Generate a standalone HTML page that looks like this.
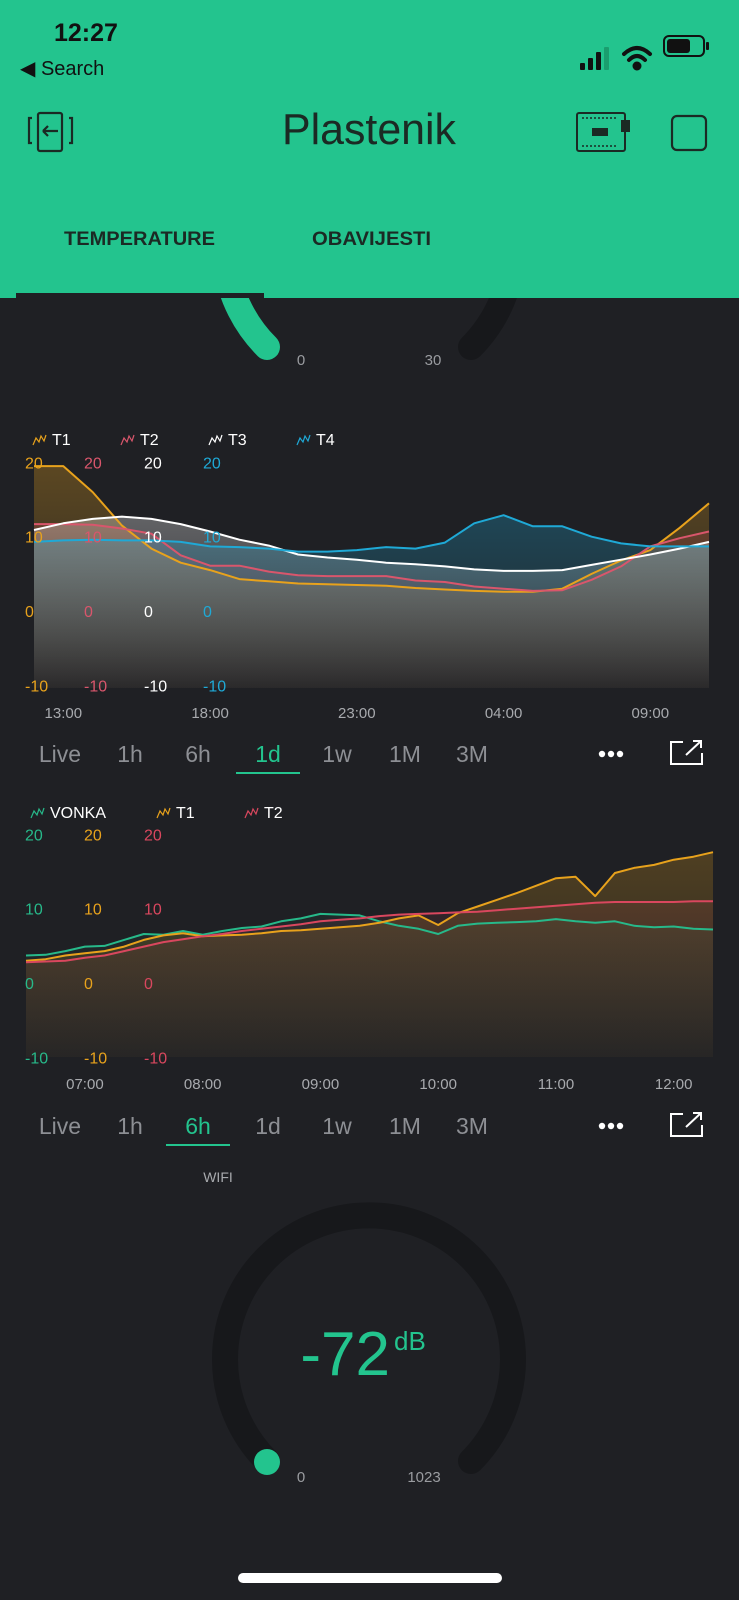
<!DOCTYPE html>
<html><head><meta charset="utf-8"><style>
html,body{margin:0;padding:0;background:#1f2024;}
body{width:739px;height:1600px;overflow:hidden;font-family:"Liberation Sans",sans-serif;}
svg{display:block}
text{font-family:"Liberation Sans",sans-serif;}
</style></head><body>
<svg id="root" width="739" height="1600" viewBox="0 0 739 1600" xmlns="http://www.w3.org/2000/svg">
<defs>
<linearGradient id="gOr" x1="0" y1="0" x2="0" y2="1"><stop offset="0" stop-color="#e8a21c" stop-opacity="0.3"/><stop offset="1" stop-color="#e8a21c" stop-opacity="0.03"/></linearGradient>
<linearGradient id="gOr2" x1="0" y1="0" x2="0" y2="1"><stop offset="0" stop-color="#e8a21c" stop-opacity="0.24"/><stop offset="1" stop-color="#e8a21c" stop-opacity="0.03"/></linearGradient>
<linearGradient id="gPk" x1="0" y1="0" x2="0" y2="1"><stop offset="0" stop-color="#d9475e" stop-opacity="0.18"/><stop offset="1" stop-color="#d9475e" stop-opacity="0.02"/></linearGradient>
<linearGradient id="gPk2" x1="0" y1="0" x2="0" y2="1"><stop offset="0" stop-color="#d9475e" stop-opacity="0.1"/><stop offset="1" stop-color="#d9475e" stop-opacity="0.01"/></linearGradient>
<linearGradient id="gWh" x1="0" y1="0" x2="0" y2="1"><stop offset="0" stop-color="#ffffff" stop-opacity="0.3"/><stop offset="1" stop-color="#ffffff" stop-opacity="0.01"/></linearGradient>
<linearGradient id="gBl" x1="0" y1="0" x2="0" y2="1"><stop offset="0" stop-color="#1fa9d6" stop-opacity="0.28"/><stop offset="1" stop-color="#1fa9d6" stop-opacity="0.02"/></linearGradient>
<linearGradient id="gGr" x1="0" y1="0" x2="0" y2="1"><stop offset="0" stop-color="#27b98a" stop-opacity="0.06"/><stop offset="1" stop-color="#27b98a" stop-opacity="0.01"/></linearGradient>
</defs>

<g>
<path d="M267 347 A144 144 0 1 1 471 347" fill="none" stroke="#17181b" stroke-width="26" stroke-linecap="round"/>
<path d="M267 347 A144 144 0 0 1 244 173" fill="none" stroke="#23c48e" stroke-width="26" stroke-linecap="round"/>
<text x="301" y="365" fill="#9a9ca0" font-size="15" text-anchor="middle">0</text>
<text x="433" y="365" fill="#9a9ca0" font-size="15" text-anchor="middle">30</text>
</g>

<g>
<rect x="0" y="0" width="739" height="298" fill="#23c48e"/>
<text x="54" y="41" font-size="25" font-weight="bold" fill="#111">12:27</text>
<text x="20" y="75" font-size="20" fill="#111">◀ Search</text>
<g fill="#111">
<rect x="580" y="63" width="5" height="7" rx="1"/><rect x="588" y="58" width="5" height="12" rx="1"/><rect x="596" y="52" width="5" height="18" rx="1"/><rect x="604" y="47" width="5" height="23" rx="1" fill="#1a9e6e"/>
</g>
<g fill="none" stroke="#111" stroke-width="4" stroke-linecap="round">
<path d="M624 54 Q637 42 650 54"/><path d="M629 60 Q637 52 645 60"/><circle cx="637" cy="66" r="2.5" fill="#111"/>
</g>
<g>
<rect x="664" y="36" width="40" height="20" rx="5" fill="none" stroke="#111" stroke-width="2"/><rect x="667" y="39" width="23" height="14" rx="3" fill="#111"/><rect x="706" y="42" width="3" height="8" rx="1" fill="#111"/>
</g>
<g fill="none" stroke="#1b2a24" stroke-width="2.2">
<path d="M32 118 L29 118 L29 143 L32 143"/><path d="M69 118 L72 118 L72 143 L69 143"/>
<rect x="38" y="113" width="24" height="38" rx="2"/><path d="M43 131 L58 131 M43 131 L48 126 M43 131 L48 136"/>
</g>
<text x="282" y="144" font-size="44" fill="#1b2a24" textLength="174" lengthAdjust="spacingAndGlyphs">Plastenik</text>
<g>
<rect x="577" y="113" width="48" height="38" rx="2" fill="none" stroke="#1b2a24" stroke-width="2"/>
<rect x="592" y="128" width="16" height="8" fill="#1b2a24"/><rect x="621" y="120" width="9" height="12" fill="#1b2a24"/>
<line x1="582" y1="118" x2="616" y2="118" stroke="#1b2a24" stroke-width="1.5" stroke-dasharray="2 2"/>
<line x1="582" y1="146" x2="616" y2="146" stroke="#1b2a24" stroke-width="1.5" stroke-dasharray="2 2"/>
</g>
<rect x="672" y="116" width="34" height="34" rx="5" fill="none" stroke="#1b2a24" stroke-width="2.2"/>
<text x="64" y="245" font-size="19" font-weight="bold" fill="#1b2a24" textLength="151" lengthAdjust="spacingAndGlyphs">TEMPERATURE</text>
<text x="312" y="245" font-size="19" font-weight="bold" fill="#1b2a24" textLength="119" lengthAdjust="spacingAndGlyphs">OBAVIJESTI</text>
<rect x="16" y="293" width="248" height="5" fill="#1f2024"/>
</g>

<g id="chart1"></g>
<g id="chart2"></g>

<g>
<text x="218" y="1182" font-size="14" fill="#a8aaae" text-anchor="middle">WIFI</text>
<path d="M267 1461 A144 144 0 1 1 471 1461" fill="none" stroke="#17181b" stroke-width="26" stroke-linecap="round"/>
<circle cx="267" cy="1462" r="13" fill="#23c48e"/>
<text x="390" y="1375" font-size="62" fill="#23c48e" text-anchor="end">-72</text>
<text x="394" y="1350" font-size="26" fill="#23c48e">dB</text>
<text x="301" y="1482" fill="#9a9ca0" font-size="15" text-anchor="middle">0</text>
<text x="424" y="1482" fill="#9a9ca0" font-size="15" text-anchor="middle">1023</text>
</g>
<rect x="238" y="1573" width="264" height="10" rx="5" fill="#ffffff"/>
</svg>

<script>
const c1Times = ['12:00','13:00','14:00','15:00','16:00','17:00','18:00','19:00','20:00','21:00','22:00','23:00','00:00','01:00','02:00','03:00','04:00','05:00','06:00','07:00','08:00','09:00','10:00','11:00'];
const c1T1 = [19.5,19.5,16,11.5,8.4,6.5,5.5,4.3,4.0,3.7,3.6,3.5,3.4,3.1,2.9,2.7,2.6,2.6,3.0,5.0,6.8,8.2,11.2,14.5];
const c1T2 = [11.7,11.7,11.6,11.1,10.4,7.5,6.1,6.1,5.3,4.8,4.7,4.7,4.7,4.1,3.9,3.3,3.0,2.7,2.8,4.2,6.0,8.7,9.8,10.7];
const c1T3 = [10.9,11.8,12.4,12.7,12.4,11.7,10.7,9.6,8.8,7.6,7.2,6.9,6.5,6.3,6.0,5.6,5.4,5.4,5.5,6.2,6.9,7.6,8.4,9.3];
const c1T4 = [9.3,9.5,9.6,9.5,9.5,9.3,8.7,8.6,8.4,8.0,8.0,8.2,8.6,8.4,9.2,11.8,12.9,11.4,11.4,10.0,9.1,8.7,8.7,8.7];
const c1YTicks = [20,10,0,-10];
const c1XTicks = ['13:00','18:00','23:00','04:00','09:00'];

const c2Times = ['06:30','06:40','06:50','07:00','07:10','07:20','07:30','07:40','07:50','08:00','08:10','08:20','08:30','08:40','08:50','09:00','09:10','09:20','09:30','09:40','09:50','10:00','10:10','10:20','10:30','10:40','10:50','11:00','11:10','11:20','11:30','11:40','11:50','12:00','12:10','12:20'];
const c2Vonka = [3.7,3.8,4.3,4.9,5.0,5.8,6.6,6.5,7.0,6.5,7.0,7.4,7.6,8.3,8.7,9.3,9.2,9.1,8.3,7.7,7.3,6.6,7.7,8.0,8.1,8.2,8.3,8.6,8.3,8.1,8.3,7.7,7.5,7.6,7.3,7.2];
const c2T1 = [3.0,3.2,3.7,4.0,4.3,4.9,5.8,6.4,6.7,6.3,6.4,6.5,6.7,7.0,7.1,7.3,7.5,7.7,8.1,8.7,9.1,7.8,9.4,10.3,11.2,12.1,13.1,14.1,14.3,11.7,14.8,15.5,15.9,16.6,17.0,17.6];
const c2T2 = [2.8,2.9,3.0,3.4,3.7,4.3,4.9,5.5,5.9,6.3,6.6,7.0,7.3,7.6,7.9,8.3,8.5,8.7,9.0,9.2,9.3,9.4,9.5,9.6,9.8,10.0,10.2,10.4,10.6,10.8,10.9,10.9,10.9,10.9,11.0,11.0];
const c2YTicks = [20,10,0,-10];
const c2XTicks = ['07:00','08:00','09:00','10:00','11:00','12:00'];
const rangeLabels = ['Live','1h','6h','1d','1w','1M','3M'];

const NS = 'http://www.w3.org/2000/svg';
function mk(tag, parent){ const e=document.createElementNS(NS,tag); parent.appendChild(e); return e; }
function toMin(t){ const p=t.split(':'); return (+p[0])*60+(+p[1]); }

function drawChart(g, cfg){
  const n = cfg.times.length;
  const x = i => cfg.x0 + i*(cfg.x1-cfg.x0)/(n-1);
  const y = v => cfg.yZero - v*cfg.yStep;
  cfg.series.forEach(s=>{
    let d='M'+x(0)+' '+cfg.bottom;
    s.data.forEach((v,i)=>{ d+=' L'+x(i).toFixed(1)+' '+y(v).toFixed(1); });
    d+=' L'+x(n-1)+' '+cfg.bottom+' Z';
    const p=mk('path',g); p.setAttribute('d',d); p.setAttribute('fill',s.fill);
    
    
  });
  cfg.series.forEach(s=>{
    const pts=s.data.map((v,i)=>x(i).toFixed(1)+','+y(v).toFixed(1)).join(' ');
    const l=mk('polyline',g); l.setAttribute('points',pts); l.setAttribute('fill','none');
    l.setAttribute('stroke',s.color); l.setAttribute('stroke-width','2'); l.setAttribute('stroke-linejoin','round');
    
    
  });
  cfg.series.forEach((s,k)=>{
    const lx=cfg.legendX[k];
    const ic=mk('polyline',g);
    ic.setAttribute('points',[lx,cfg.legendY+1, lx+3,cfg.legendY-6, lx+6,cfg.legendY-2, lx+8,cfg.legendY-8, lx+11,cfg.legendY-3, lx+13,cfg.legendY-9].join(' '));
    ic.setAttribute('fill','none'); ic.setAttribute('stroke',s.color); ic.setAttribute('stroke-width','1.2');
    
    
    const t=mk('text',g); t.textContent=s.label; t.setAttribute('x',lx+19); t.setAttribute('y',cfg.legendY+1);
    t.setAttribute('fill','#ffffff'); t.setAttribute('font-size','16');
    
    
    cfg.yTicks.forEach(v=>{
      const yt=mk('text',g); yt.textContent=String(v); yt.setAttribute('x',cfg.axisX[k]); yt.setAttribute('y',y(v)+6);
      yt.setAttribute('fill',s.color); yt.setAttribute('font-size','16');
      
      
    });
  });
  const m0=toMin(cfg.times[0]);
  cfg.xTicks.forEach(lbl=>{
    let m=toMin(lbl)-m0; if(m<0) m+=1440;
    const span=(toMin(cfg.times[n-1])-m0+1440)%1440;
    const xx=cfg.x0+m/span*(cfg.x1-cfg.x0);
    const t=mk('text',g); t.textContent=lbl; t.setAttribute('x',xx.toFixed(1)); t.setAttribute('y',cfg.xLabelY);
    t.setAttribute('fill','#a8aaae'); t.setAttribute('font-size','15'); t.setAttribute('text-anchor','middle');
    
    
  });
  const rx=[60,130,198,268,337,405,472];
  rangeLabels.forEach((lbl,k)=>{
    const t=mk('text',g); t.textContent=lbl; t.setAttribute('x',rx[k]); t.setAttribute('y',cfg.btnY);
    t.setAttribute('text-anchor','middle'); t.setAttribute('font-size','23');
    t.setAttribute('fill', lbl===cfg.active ? '#23c48e' : '#8d8f94');
    
    
    if(lbl===cfg.active){
      const u=mk('rect',g); u.setAttribute('x',rx[k]-32); u.setAttribute('y',cfg.btnY+10); u.setAttribute('width','64'); u.setAttribute('height','2'); u.setAttribute('fill','#23c48e');
      
      
    }
  });
  const dots=mk('g',g);
  
  
  [602,611,620].forEach(cx=>{ const c=mk('circle',dots); c.setAttribute('cx',cx); c.setAttribute('cy',cfg.btnY-8); c.setAttribute('r','3.2'); c.setAttribute('fill','#ffffff'); });
  const ex=mk('path',g);
  ex.setAttribute('d','M683 '+(cfg.btnY-20)+' L671 '+(cfg.btnY-20)+' L671 '+(cfg.btnY+2)+' L702 '+(cfg.btnY+2)+' L702 '+(cfg.btnY-9)+' M686 '+(cfg.btnY-7)+' L701 '+(cfg.btnY-21)+' M693 '+(cfg.btnY-21)+' L701 '+(cfg.btnY-21)+' L701 '+(cfg.btnY-14));
  ex.setAttribute('fill','none'); ex.setAttribute('stroke','#ffffff'); ex.setAttribute('stroke-width','2');
  
  
}

drawChart(document.getElementById('chart1'), {
  times:c1Times, x0:34, x1:709, yZero:611, yStep:7.43, bottom:688,
  yTicks:c1YTicks, xTicks:c1XTicks, xLabelY:718, legendY:444, btnY:762, active:'1d',
  legendX:[33,121,209,297], axisX:[25,84,144,203],
  series:[
    {name:'t1',label:'T1',data:c1T1,color:'#e8a21c',fill:'url(#gOr)'},
    {name:'t2',label:'T2',data:c1T2,color:'#d9566c',fill:'url(#gPk)'},
    {name:'t3',label:'T3',data:c1T3,color:'#ffffff',fill:'url(#gWh)'},
    {name:'t4',label:'T4',data:c1T4,color:'#1fa9d6',fill:'url(#gBl)'}
  ]
});
drawChart(document.getElementById('chart2'), {
  times:c2Times, x0:26, x1:713, yZero:983, yStep:7.43, bottom:1057,
  yTicks:c2YTicks, xTicks:c2XTicks, xLabelY:1089, legendY:817, btnY:1134, active:'6h',
  legendX:[31,157,245], axisX:[25,84,144],
  series:[
    {name:'vonka',label:'VONKA',data:c2Vonka,color:'#27b98a',fill:'url(#gGr)'},
    {name:'t1',label:'T1',data:c2T1,color:'#e8a21c',fill:'url(#gOr2)'},
    {name:'t2',label:'T2',data:c2T2,color:'#d9475e',fill:'url(#gPk2)'}
  ]
});
</script>
</body></html>
